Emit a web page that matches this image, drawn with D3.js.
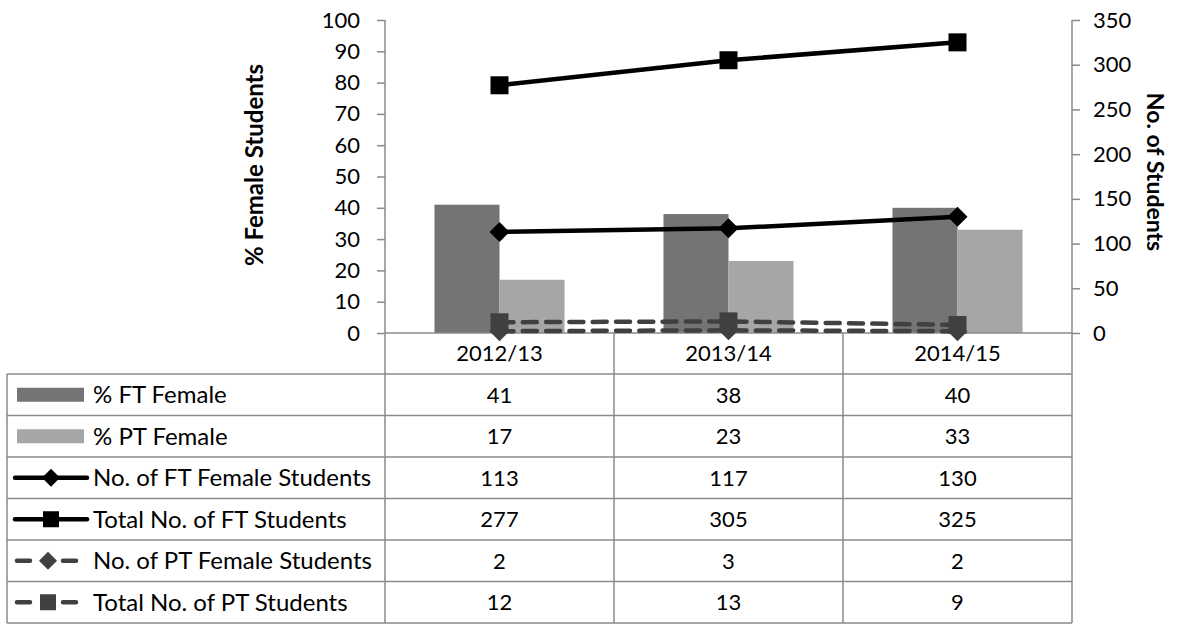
<!DOCTYPE html>
<html>
<head>
<meta charset="utf-8">
<script src="https://cdn.jsdelivr.net/npm/d3@7"></script>
<style>
  html, body { margin: 0; padding: 0; background: #fff; }
  svg { display: block; font-family: Lato, "Open Sans", sans-serif; }
</style>
</head>
<body>
<svg id="chart" width="1178" height="624"></svg>
<script>
// Academic years
const categories = ["2012/13", "2013/14", "2014/15"];

// Percentage series (left axis)
const pctFTFemale = [41, 38, 40];
const pctPTFemale = [17, 23, 33];

// Head-count series (right axis)
const noFTFemale = [113, 117, 130];
const totalFT = [277, 305, 325];
const noPTFemale = [2, 3, 2];
const totalPT = [12, 13, 9];

// Axis ticks
const leftTicks = [0, 10, 20, 30, 40, 50, 60, 70, 80, 90, 100];
const rightTicks = [0, 50, 100, 150, 200, 250, 300, 350];

const seriesNames = [
  "% FT Female", "% PT Female",
  "No. of FT Female Students", "Total No. of FT Students",
  "No. of PT Female Students", "Total No. of PT Students"
];

const svg = d3.select("#chart");

const plot = { left: 385, right: 1072, top: 20, bottom: 333 };
const table = { left: 7, headerBottom: 374, rowH: 41.5 };
const gridColor = "#8a8a8a";
const fs = 22;      // numbers
const fsLabel = 24; // legend labels

const x = d3.scaleBand().domain(categories).range([plot.left, plot.right]);
const xBars = d3.scaleBand().domain(categories).range([plot.left, plot.right])
  .paddingInner(0.432).paddingOuter(0.216);
const xSub = d3.scaleBand().domain([0, 1]).range([0, xBars.bandwidth()]);
const yL = d3.scaleLinear().domain([0, 100]).range([plot.bottom, plot.top]);
const yR = d3.scaleLinear().domain([0, 350]).range([plot.bottom, plot.top]);
const cx = c => x(c) + x.bandwidth() / 2;

const barColors = ["#747474", "#a6a6a6"];
const darkDash = "#404040";

// Bars
[pctFTFemale, pctPTFemale].forEach((vals, si) => {
  svg.append("g").selectAll("rect").data(vals).join("rect")
    .attr("x", (d, i) => xBars(categories[i]) + xSub(si))
    .attr("y", d => yL(d))
    .attr("width", xSub.bandwidth())
    .attr("height", d => yL(0) - yL(d))
    .attr("fill", barColors[si]);
});

// Baseline
svg.append("line").attr("x1", plot.left).attr("x2", plot.right)
  .attr("y1", yL(0)).attr("y2", yL(0))
  .attr("stroke", gridColor).attr("stroke-width", 1.5);

// Left axis
const axL = svg.append("g").attr("transform", `translate(${plot.left},0)`)
  .call(d3.axisLeft(yL).tickValues(leftTicks).tickSize(8).tickPadding(17));
axL.select(".domain").remove();
axL.selectAll(".tick line").attr("stroke", gridColor).attr("stroke-width", 1.5);
axL.selectAll(".tick text").attr("font-size", fs).attr("fill", "#000")
  .attr("font-family", "Lato, sans-serif");

// Right axis
const axR = svg.append("g").attr("transform", `translate(${plot.right},0)`)
  .call(d3.axisRight(yR).tickValues(rightTicks).tickSize(8).tickPadding(13));
axR.select(".domain").remove();
axR.selectAll(".tick line").attr("stroke", gridColor).attr("stroke-width", 1.5);
axR.selectAll(".tick text").attr("font-size", fs).attr("fill", "#000")
  .attr("font-family", "Lato, sans-serif");

// Axis titles
svg.append("text").attr("transform", "translate(263,165) rotate(-90)")
  .attr("text-anchor", "middle").attr("font-weight", "bold")
  .attr("font-size", 24).text("% Female Students");
svg.append("text").attr("transform", "translate(1147,172) rotate(90)")
  .attr("text-anchor", "middle").attr("font-weight", "bold")
  .attr("font-size", 23).text("No. of Students");

// Line series on the secondary axis
const lineSeries = [
  { vals: noFTFemale, color: "#000", dash: null, marker: "diamond" },
  { vals: totalFT, color: "#000", dash: null, marker: "square" },
  { vals: noPTFemale, color: darkDash, dash: "14,9.3", marker: "diamond" },
  { vals: totalPT, color: darkDash, dash: "14,9.3", marker: "square" }
];
const lineGen = d3.line().x((d, i) => cx(categories[i])).y(d => yR(d));

function drawMarker(g, type, mx, my, color, size) {
  if (type === "square") {
    g.append("rect").attr("x", mx - size / 2).attr("y", my - size / 2)
      .attr("width", size).attr("height", size).attr("fill", color);
  } else {
    const h = size / 2 + 1;
    g.append("path")
      .attr("d", `M${mx},${my - h}L${mx + h},${my}L${mx},${my + h}L${mx - h},${my}Z`)
      .attr("fill", color);
  }
}

lineSeries.forEach(s => {
  const g = svg.append("g");
  g.append("path").datum(s.vals).attr("d", lineGen)
    .attr("fill", "none").attr("stroke", s.color).attr("stroke-width", 4.5)
    .attr("stroke-linecap", s.dash ? "round" : "butt")
    .attr("stroke-dasharray", s.dash);
  s.vals.forEach((v, i) => drawMarker(g, s.marker, cx(categories[i]), yR(v), s.color, 18));
});

// Data table
const tg = svg.append("g");
const rows = [pctFTFemale, pctPTFemale, noFTFemale, totalFT, noPTFemale, totalPT];
const tableBottom = table.headerBottom + rows.length * table.rowH;
const rowY = i => table.headerBottom + i * table.rowH;

// vertical lines
[plot.left, x(categories[1]), x(categories[2]), plot.right].forEach(vx => {
  tg.append("line").attr("x1", vx).attr("x2", vx)
    .attr("y1", (vx === plot.left || vx === plot.right) ? plot.top : plot.bottom)
    .attr("y2", tableBottom)
    .attr("stroke", gridColor).attr("stroke-width", 1.5);
});
tg.append("line").attr("x1", table.left).attr("x2", table.left)
  .attr("y1", table.headerBottom).attr("y2", tableBottom)
  .attr("stroke", gridColor).attr("stroke-width", 1.5);
// horizontal lines
d3.range(rows.length + 1).forEach(i => {
  tg.append("line").attr("x1", table.left).attr("x2", plot.right)
    .attr("y1", rowY(i)).attr("y2", rowY(i))
    .attr("stroke", gridColor).attr("stroke-width", 1.5);
});

// header labels
tg.selectAll("text.cat").data(categories).join("text")
  .attr("class", "cat")
  .attr("x", d => cx(d)).attr("y", (plot.bottom + table.headerBottom) / 2)
  .attr("dy", "0.36em").attr("text-anchor", "middle")
  .attr("font-size", fs).text(d => d);

// values and legend keys
rows.forEach((vals, r) => {
  const ym = rowY(r) + table.rowH / 2;
  tg.selectAll(null).data(vals).join("text")
    .attr("x", (d, i) => cx(categories[i])).attr("y", ym)
    .attr("dy", "0.36em").attr("text-anchor", "middle")
    .attr("font-size", fs).text(d => d);
  tg.append("text").attr("x", 93).attr("y", ym).attr("dy", "0.36em")
    .attr("font-size", fsLabel).text(seriesNames[r]);
  const kg = tg.append("g");
  if (r < 2) {
    kg.append("rect").attr("x", 17).attr("y", ym - 7).attr("width", 67).attr("height", 14)
      .attr("fill", barColors[r]);
  } else {
    const s = lineSeries[r - 2];
    if (s.dash) {
      kg.append("line").attr("x1", 17).attr("x2", 76).attr("y1", ym).attr("y2", ym)
        .attr("stroke", s.color).attr("stroke-width", 4.5)
        .attr("stroke-linecap", "round").attr("stroke-dasharray", "13,33,13");
      drawMarker(kg, s.marker, 48, ym, s.color, 16);
    } else {
      kg.append("line").attr("x1", 15).attr("x2", 87).attr("y1", ym).attr("y2", ym)
        .attr("stroke", s.color).attr("stroke-width", 4.5).attr("stroke-linecap", "round");
      drawMarker(kg, s.marker, 51, ym, s.color, 16);
    }
  }
});
</script>
</body>
</html>
